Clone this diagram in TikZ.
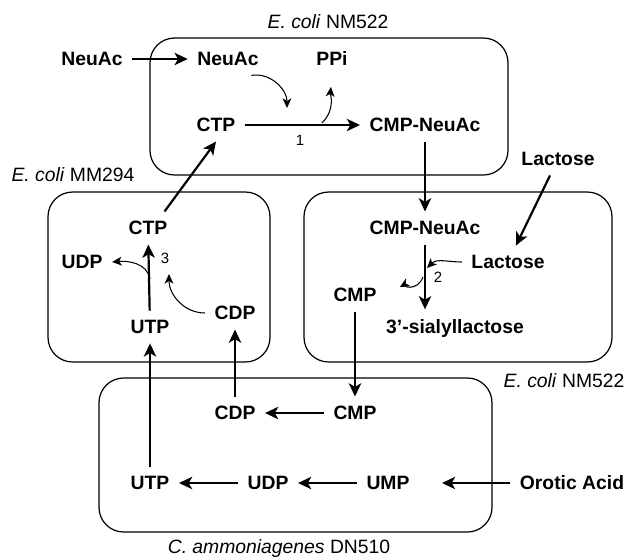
\documentclass[tikz,border=0pt]{standalone}
\usepackage{fontspec}
\setmainfont{Liberation Sans}
\usetikzlibrary{arrows.meta}

\begin{document}
\begin{tikzpicture}[
    x=0.02cm, y=-0.02cm,
    chem/.style={font=\fontsize{11}{13}\selectfont\bfseries, inner sep=2pt, outer sep=3.5pt},
    strain/.style={font=\fontsize{11}{13}\selectfont, inner sep=0pt},
    enzyme/.style={font=\fontsize{8.5}{10}\selectfont, inner sep=0pt},
    cell/.style={draw, line width=0.7pt, rounded corners=14pt},
    arrow/.style={-{Stealth[length=7.5pt, width=7pt, inset=2pt]}, line width=1.25pt},
    side/.style={-{Stealth[length=5.5pt, width=5pt, inset=1.5pt]}, line width=0.6pt}
]
\useasboundingbox (0,0) rectangle (633,559);

% cells
\draw[cell] (150,38) rectangle (508,175);
\draw[cell] (48,192) rectangle (270,362);
\draw[cell] (304,192) rectangle (612,362);
\draw[cell] (99,378) rectangle (492,532);

\node[strain] (nm522a) at (328,22) {\textit{E. coli} NM522};
\node[strain] (mm294) at (73,175) {\textit{E. coli} MM294};
\node[strain] (nm522b) at (564,381) {\textit{E. coli} NM522};
\node[strain] (dn510) at (279,548) {\textit{C. ammoniagenes} DN510};

% CMP-NeuAc synthesis
\node[chem] (neuOut) at (92,59) {NeuAc};
\node[chem] (neuIn) at (228,59) {NeuAc};
\node[chem] (ppi) at (332,58) {PPi};
\node[chem] (ctpT) at (216,125) {CTP};
\node[chem] (cmpneuT) at (425,125) {CMP-NeuAc};
\node[enzyme] (e1) at (300,140) {1};

% sialyltransferase
\node[chem] (lacOut) at (558,159) {Lactose};
\node[chem] (cmpneuR) at (425,228) {CMP-NeuAc};
\node[chem] (lacIn) at (508,262) {Lactose};
\node[chem] (cmpR) at (355,295) {CMP};
\node[chem] (sia) at (455,328) {3'-sialyllactose};
\node[enzyme] (e2) at (438,277) {2};

% CTP synthetase
\node[chem] (ctpL) at (148,228) {CTP};
\node[chem] (udpL) at (82,262) {UDP};
\node[chem] (utpL) at (150,327) {UTP};
\node[chem] (cdpL) at (235,313) {CDP};
\node[enzyme] (e3) at (165,258) {3};

% UTP regeneration
\node[chem] (cdpB) at (235,413) {CDP};
\node[chem] (cmpB) at (355,413) {CMP};
\node[chem] (utpB) at (150,483) {UTP};
\node[chem] (udpB) at (268,483) {UDP};
\node[chem] (umpB) at (388,483) {UMP};
\node[chem] (oro) at (572,483) {Orotic Acid};

\coordinate (r1in) at (287,108);
\coordinate (r1out) at (322,123);
\coordinate (r2in) at (427,268);
\coordinate (r2out) at (423,277);
\coordinate (r3out) at (150,279);
\coordinate (r3in) at (169,274);

\draw[arrow] (neuOut) -- (neuIn);
\draw[arrow] (ctpT) -- (cmpneuT);
\draw[arrow] (cmpneuT) -- (cmpneuR);
\draw[arrow] (lacOut) -- (lacIn);
\draw[arrow] (cmpneuR.south) -- (cmpneuR.south |- sia.north);
\draw[arrow] (cmpR) -- (cmpB);
\draw[arrow] (cmpB) -- (cdpB);
\draw[arrow] (cdpB) -- (cdpL);
\draw[arrow, shorten >=13pt] (oro) -- (umpB);
\draw[arrow] (umpB) -- (udpB);
\draw[arrow] (udpB) -- (utpB);
\draw[arrow] (utpB) -- (utpL);
\draw[arrow] (utpL) -- (ctpL);
\draw[arrow] (ctpL.45) -- (ctpT.south);

\draw[side] (neuIn.-35) to[out=10, in=90] (r1in);
\draw[side, shorten >=7pt] (r1out) to[out=45, in=-95] (ppi.south);
\draw[side] (lacIn.west) to[out=180, in=45] (r2in);
\draw[side, shorten >=9pt] (r2out) to[out=-110, in=30] (cmpR.east);
\draw[side] (r3out) to[out=100, in=5] (udpL.east);
\draw[side] (cdpL.west) to[out=180, in=-90] (r3in);
\end{tikzpicture}
\end{document}
